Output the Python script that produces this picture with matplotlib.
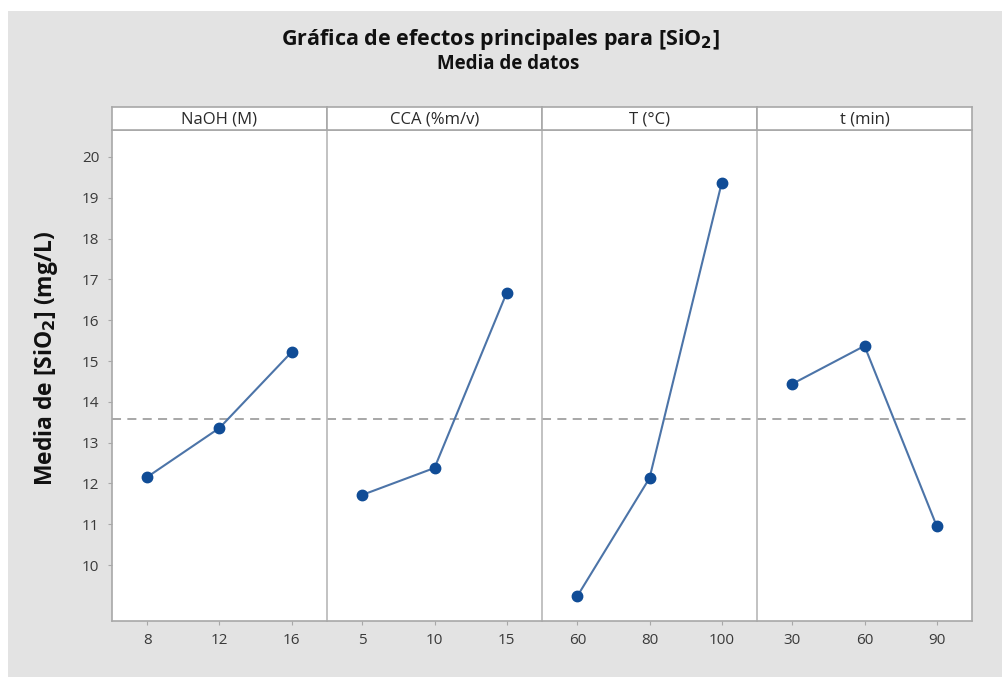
import numpy as np
import matplotlib
matplotlib.use('Agg')
import matplotlib.pyplot as plt
from matplotlib.patches import Rectangle

factors = ['NaOH (M)', 'CCA (%m/v)', 'T (°C)', 't (min)']
levels = [['8', '12', '16'],
          ['5', '10', '15'],
          ['60', '80', '100'],
          ['30', '60', '90']]
naoh_means = [12.16, 13.36, 15.22]
cca_means = [11.72, 12.38, 16.67]
temp_means = [9.24, 12.13, 19.36]
time_means = [14.44, 15.37, 10.96]
grand_mean = 13.59
yticks = [10, 11, 12, 13, 14, 15, 16, 17, 18, 19, 20]

series = [naoh_means, cca_means, temp_means, time_means]

W, H = 1003, 677
fig = plt.figure(figsize=(W / 100, H / 100), dpi=100, facecolor='white')
plt.rcParams['font.family'] = ['Open Sans', 'DejaVu Sans']

# gray backdrop like the source screenshot
fig.patches.append(Rectangle((8 / W, 0), 1 - 8 / W, 1 - 11 / H,
                             transform=fig.transFigure, facecolor='#e3e3e3',
                             edgecolor='none', zorder=-10))

def px(x0, y0, x1, y1):
    # pixel box (top-left origin) -> figure fraction rect
    return [x0 / W, 1 - y1 / H, (x1 - x0) / W, (y1 - y0) / H]

FRAME = '#a8a8a8'
LINE = '#4c74a8'
MARK = '#104c96'
left, right = 112, 972
top_hdr, top_plot, bottom = 107, 130, 621
pw = (right - left) / 4

ylim = (8.63, 20.66)
for i, (name, labs, vals) in enumerate(zip(factors, levels, series)):
    x0 = left + i * pw
    ax = fig.add_axes(px(x0, top_plot, x0 + pw, bottom))
    ax.set_facecolor('white')
    xs = np.arange(len(vals))
    ax.axhline(grand_mean, color='#a0a0a0', lw=1.3, ls=(0, (5, 3.5)), zorder=1)
    ax.plot(xs, vals, color=LINE, lw=1.5, zorder=2)
    ax.plot(xs, vals, 'o', color=MARK, ms=7.5, zorder=3)
    ax.set_xlim(-0.49, 2.49)
    ax.set_ylim(*ylim)
    ax.set_xticks(xs, labs)
    ax.tick_params(axis='x', length=3, color=FRAME, labelsize=11,
                   labelcolor='#3a3a3a', pad=6)
    if i == 0:
        ax.set_yticks(yticks)
        ax.tick_params(axis='y', length=3, color=FRAME, labelsize=11,
                       labelcolor='#3a3a3a', pad=6)
    else:
        ax.set_yticks([])
    for sp in ax.spines.values():
        sp.set_color(FRAME)
        sp.set_linewidth(1.2)
    if i > 0:
        ax.spines['left'].set_color('#b8b8b8')
    if i < 3:
        ax.spines['right'].set_visible(False)

    hax = fig.add_axes(px(x0, top_hdr, x0 + pw, top_plot))
    hax.set_facecolor('white')
    hax.set_xticks([])
    hax.set_yticks([])
    for sp in hax.spines.values():
        sp.set_color(FRAME)
        sp.set_linewidth(1.2)
    hax.text(0.5, 0.45, name, ha='center', va='center', fontsize=12,
             color='#2a2a2a', transform=hax.transAxes)

fig.text(500 / W, 1 - 40 / H, 'Gráfica de efectos principales para [SiO$_\\mathbf{2}$]',
         ha='center', va='center', fontsize=15.5, fontweight='bold', color='#111111')
fig.text(508 / W, 1 - 64 / H, 'Media de datos', ha='center', va='center',
         fontsize=13.5, fontweight='bold', color='#111111')
fig.text(46 / W, 1 - 358 / H, 'Media de [SiO$_\\mathbf{2}$] (mg/L)', ha='center', va='center',
         rotation=90, fontsize=16.5, fontweight='bold', color='#111111')

fig.savefig('out.png', dpi=100, facecolor=fig.get_facecolor())
